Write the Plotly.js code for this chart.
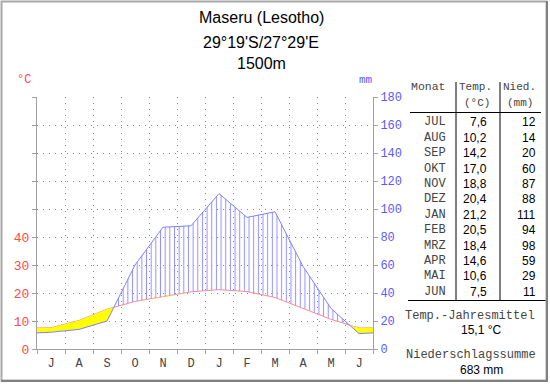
<!DOCTYPE html>
<html><head><meta charset="utf-8">
<script src="https://cdn.plot.ly/plotly-3.0.1.min.js"></script>
<style>html,body{margin:0;padding:0;background:#fff;}#chart{width:550px;height:384px;}</style>
</head><body><div id="chart"></div>
<script>
// ---- data (Jul .. Jun) ----
const monthLetters = ['J','A','S','O','N','D','J','F','M','A','M','J'];
const monthNames = ['JUL','AUG','SEP','OKT','NOV','DEZ','JAN','FEB','MRZ','APR','MAI','JUN'];
const temp = [7.6,10.2,14.2,17.0,18.8,20.4,21.2,20.5,18.4,14.6,10.6,7.5];
const precip = [12,14,20,60,87,88,111,94,98,59,29,11];
const titleLines = ['Maseru (Lesotho)', "29°19'S/27°29'E", '1500m'];

// ---- geometry helpers ----
const L=37, Tp=97, W=336, H=252;
const px = x => (x-L)/W;
const py = y => (Tp+H-y)/H;

// ---- series incl. edge points ----
const eT=(temp[11]+temp[0])/2, eP=(precip[11]+precip[0])/2;
const xs=[0], Tv=[eT], Pv=[eP];
temp.forEach((t,i)=>{xs.push(i+0.5);Tv.push(t);Pv.push(precip[i]);});
xs.push(12);Tv.push(eT);Pv.push(eP);
const T2=Tv.map(v=>v*2);

// envelope with crossing points
const X=[],TT=[],PP=[];
for(let i=0;i<xs.length;i++){
  X.push(xs[i]);TT.push(T2[i]);PP.push(Pv[i]);
  if(i<xs.length-1){
    const d0=Pv[i]-T2[i], d1=Pv[i+1]-T2[i+1];
    if(d0*d1<0){
      const f=d0/(d0-d1);
      const xc=xs[i]+f*(xs[i+1]-xs[i]);
      const yc=T2[i]+f*(T2[i+1]-T2[i]);
      X.push(xc);TT.push(yc);PP.push(yc);
    }
  }
}
const upper=X.map((x,i)=>Math.max(PP[i],TT[i]));
const lower=X.map((x,i)=>Math.min(PP[i],TT[i]));
const Xr=X.slice().reverse();

const traces=[
 {x:X.concat(Xr), y:TT.concat(lower.slice().reverse()), yaxis:'y2', type:'scatter', mode:'lines',
  fill:'toself', fillcolor:'#ffff00', line:{width:0}, hoverinfo:'skip', showlegend:false},
 {x:X.concat(Xr), y:upper.concat(TT.slice().reverse()), yaxis:'y2', type:'scatter', mode:'lines',
  fill:'toself', fillcolor:'rgba(0,0,0,0)', line:{width:0},
  fillpattern:{shape:'|', size:4.66, solidity:0.22, fgcolor:'#9494ff', bgcolor:'rgba(0,0,0,0)'},
  hoverinfo:'skip', showlegend:false},
 {x:xs, y:Tv, yaxis:'y', type:'scatter', mode:'lines', line:{color:'#ff8c8c', width:1}, showlegend:false},
 {x:xs, y:Pv, yaxis:'y2', type:'scatter', mode:'lines', line:{color:'#8080ff', width:1}, showlegend:false}
];

const mono='Liberation Mono, Courier New, monospace';
const sans='Liberation Sans, Arial, sans-serif';
const ann=[];
const A=(t,x,y,anc,fam,size,color)=>ann.push({text:t,x:px(x),y:py(y),xref:'paper',yref:'paper',showarrow:false,
  xanchor:anc,yanchor:'middle',font:{family:fam,size:size,color:color}});
const yT=[17,42,63];
titleLines.forEach((t,i)=>A(t,261,yT[i],'center',sans,16,'#000'));
A('°C',24,80,'center',mono,12,'#ff4a4a');
A('mm',366,80,'center',mono,11,'#5a5aff');
// table header
const hc='#444';
A('Monat',448,87,'right',mono,11.5,hc);
A('Temp.',475,87,'center',mono,11,hc);
A('(°C)',477,103,'center',mono,11,hc);
A('Nied.',519,87,'center',mono,11,hc);
A('(mm)',520,103,'center',mono,11,hc);
monthNames.forEach((m,i)=>{
  const y=122.3+i*15.4;
  A(m,448,y,'right',mono,12,hc);
  A(temp[i].toFixed(1).replace('.',','),489,y,'right',sans,12,'#000');
  A(String(precip[i]),538,y,'right',sans,12,'#000');
});
const mean=(temp.reduce((a,b)=>a+b,0)/temp.length).toFixed(1).replace('.',',');
const sum=precip.reduce((a,b)=>a+b,0);
A('Temp.-Jahresmittel',470,316,'center',mono,12,hc);
A(mean+' °C',481,330,'center',sans,12,'#000');
A('Niederschlagssumme',471,355,'center',mono,12,hc);
A(sum+' mm',481,370,'center',sans,12,'#000');

const ln=(x0,y0,x1,y1,c,w)=>({type:'line',xref:'paper',yref:'paper',x0:px(x0),y0:py(y0),x1:px(x1),y1:py(y1),line:{color:c,width:w}});
const shapes=[
  ln(456,82,456,300.5,'#000',1),
  ln(500,82,500,300.5,'#000',1),
  ln(410,112.5,541,112.5,'#000',1),
  ln(408,300.5,546,300.5,'#000',1),
  {type:'rect',xref:'paper',yref:'paper',x0:px(1.5),y0:py(1.5),x1:px(546.5),y1:py(380.5),line:{color:'#a8a8a8',width:2}},
  ln(547,1,547,382,'#808080',2),
  ln(1,381,547,381,'#808080',2)
];

const gridDash='1px,5px';
const layout={
  width:550,height:384,margin:{l:L,r:550-L-W,t:Tp,b:384-Tp-H},
  paper_bgcolor:'#fff',plot_bgcolor:'#fff',showlegend:false,
  xaxis:{range:[0,12],tickmode:'array',tickvals:monthLetters.map((m,i)=>i+0.5),ticktext:monthLetters,
    ticks:'outside',ticklen:3,tickcolor:'rgba(0,0,0,0)',showgrid:false,showline:true,linecolor:'#a0a0a0',linewidth:1,zeroline:false,
    tickfont:{family:mono,size:12,color:'#444'},fixedrange:true,
    minor:{tickmode:'linear',tick0:0,dtick:1,ticks:'outside',ticklen:4,tickcolor:'#a0a0a0',showgrid:true,gridcolor:'#8a8a8a',griddash:gridDash,gridwidth:1}},
  yaxis:{range:[0,90],tickmode:'array',tickvals:[0,10,20,30,40,50,60,70,80,90],ticktext:['0','10','20','30','40','','','','',''],
    ticks:'outside',ticklen:4,tickcolor:'#a0a0a0',showgrid:true,gridcolor:'#8a8a8a',griddash:gridDash,gridwidth:1,
    showline:true,linecolor:'#a0a0a0',linewidth:1,zeroline:false,tickfont:{family:mono,size:13,color:'#ff4a4a'},fixedrange:true},
  yaxis2:{range:[0,180],overlaying:'y',side:'right',tickmode:'linear',tick0:0,dtick:20,ticks:'outside',ticklen:4,tickcolor:'#a0a0a0',
    showgrid:false,showline:true,linecolor:'#a0a0a0',linewidth:1,zeroline:false,tickfont:{family:mono,size:12,color:'#5a5aff'},fixedrange:true},
  annotations:ann,shapes:shapes
};
Plotly.newPlot('chart',traces,layout,{displayModeBar:false,staticPlot:true});
</script></body></html>
